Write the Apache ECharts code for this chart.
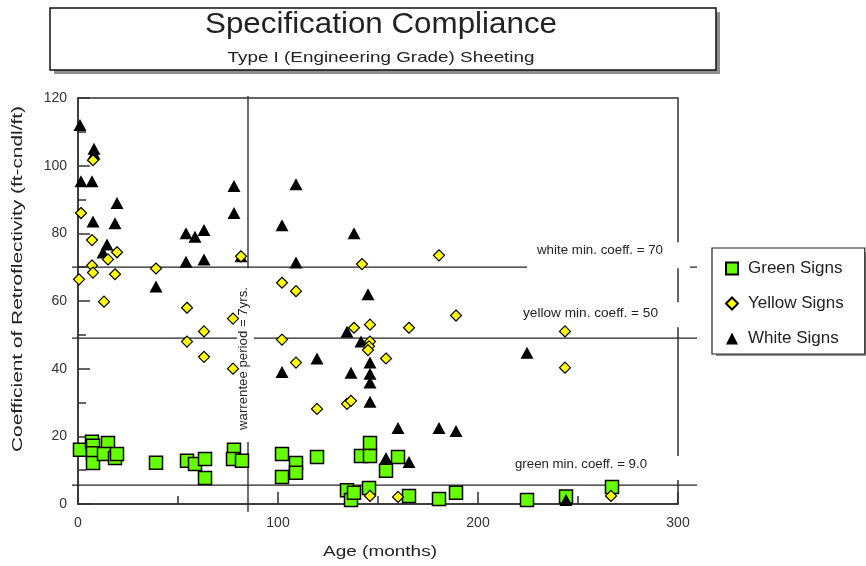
<!DOCTYPE html>
<html><head><meta charset="utf-8">
<script src="https://cdn.jsdelivr.net/npm/echarts@6/dist/echarts.min.js"></script>
<style>html,body{margin:0;padding:0;background:#fff}#c{width:866px;height:566px}</style>
</head><body><div id="c"></div>
<script>
// ---------- data ----------
const seriesNames = ['Green Signs', 'Yellow Signs', 'White Signs'];
const greenSigns = [
  [1,16],[7,18.4],[7.5,17.2],[7.5,15],[7.5,12.1],[15,18],[13,14.8],[18.5,13.6],[19.5,14.8],
  [39,12.2],[54.5,12.8],[58.5,11.8],[63.5,13.3],[63.5,7.7],[78,16],[77.5,13.3],[82,12.8],
  [102,14.8],[102,8],[109,12.1],[109,9.2],[119.5,13.9],[134.5,4.1],[136.5,1.2],[138,3.3],
  [141.5,14.2],[146,18],[146,14.2],[145.5,4.7],[154,9.8],[160,13.9],[165.5,2.4],[180.5,1.5],
  [189,3.3],[224.5,1.2],[244,2.2],[267,5]
];
const yellowSigns = [
  [1.5,86],[7.5,101.6],[7,78],[15,72.3],[19.5,74.4],[7,70.5],[7.5,68.4],[18.5,67.9],[0.5,66.4],
  [13,59.8],[39,69.6],[54.5,58],[54.5,48],[63,51],[63,43.5],[77.5,54.8],[77.5,40],[81.5,73.2],
  [102,65.4],[102,48.6],[109,62.9],[109,41.8],[119.5,28.1],[134.5,29.6],[136.5,30.5],[138,52.1],
  [142,70.9],[146,53],[146,48],[145.5,46.6],[145,45.5],[154,43],[165.5,52.1],[180.5,73.5],
  [189,55.7],[146,2.4],[160,2.1],[243.5,51],[243.5,40.3],[266.5,2.4]
];
const whiteSigns = [
  [1,112],[8,105],[8,103.5],[1.5,95.4],[7,95.4],[19.5,89],[7.5,83.5],[18.5,83],[14.5,76.7],
  [12.5,74.3],[39,64.3],[54,80],[58.5,79],[63,81],[54,71.6],[63,72.3],[78,94],[78,86],
  [81.5,73.2],[102,82.4],[109,94.5],[138,80],[109,71.4],[145,62],[134.5,50.9],[141.5,48],
  [119.5,43],[146,41.8],[102,39],[136.5,38.8],[146,38.5],[146,35.9],[146,30.2],[160,22.5],
  [180.5,22.5],[189,21.6],[154,13.6],[165.5,12.4],[224.5,44.7],[244,1.2]
];
const xRange = [0, 300], xStep = 100;
const yRange = [0, 120], yStep = 20;
const refValues = [70, 49, 5.6];
const refLabels = ['white min. coeff. = 70', 'yellow min. coeff. = 50', 'green min. coeff. = 9.0'];
const warrantyMonths = 85;
const warrantyLabel = 'warrentee period = 7yrs.';
const titleText = 'Specification Compliance';
const subtitleText = 'Type I (Engineering Grade) Sheeting';
const xAxisName = 'Age (months)';
const yAxisName = 'Coefficient of Retroflectivity (ft-cndl/ft)';

// ---------- chart ----------
const FONT = '"Liberation Sans", Arial, Helvetica, sans-serif';
const chart = echarts.init(document.getElementById('c'), null, {renderer: 'canvas'});
const axisCommon = {
  splitLine: {show: false},
  axisLine: {show: true, onZero: false, lineStyle: {color: '#333', width: 1.5}},
  axisTick: {show: true, inside: true, length: 12, lineStyle: {color: '#333', width: 1.5}},
  minorTick: {show: true, splitNumber: 2, length: 8, lineStyle: {color: '#333', width: 1.5}},
  axisLabel: {color: '#333', fontSize: 14, fontFamily: FONT}
};
chart.setOption({
  animation: false,
  backgroundColor: '#fff',
  grid: {left: 78, top: 98, width: 600, height: 406, show: true, borderColor: '#333', borderWidth: 1.5, backgroundColor: 'transparent'},
  xAxis: Object.assign({type: 'value', min: xRange[0], max: xRange[1], interval: xStep}, axisCommon,
    {axisLabel: Object.assign({}, axisCommon.axisLabel, {margin: 12})}),
  yAxis: Object.assign({type: 'value', min: yRange[0], max: yRange[1], interval: yStep}, axisCommon,
    {axisLabel: Object.assign({}, axisCommon.axisLabel, {margin: 11})}),
  legend: {
    orient: 'vertical', left: 712, top: 248, z: 5,
    data: seriesNames,
    padding: [12, 21, 7, 13], itemGap: 18, itemWidth: 12, itemHeight: 12,
    backgroundColor: '#fff', borderColor: '#222', borderWidth: 1.2,
    textStyle: {fontSize: 17, fontFamily: FONT, color: '#222', padding: [0, 0, 0, 5]}
  },
  series: [
    {name: seriesNames[0], type: 'scatter', data: greenSigns, symbol: 'rect', symbolSize: 13, z: 2,
     itemStyle: {color: '#66ff00', borderColor: '#000', borderWidth: 1.5, opacity: 1}, emphasis: {disabled: true}},
    {name: seriesNames[2], type: 'scatter', data: whiteSigns, symbol: 'triangle', symbolSize: [13, 12], z: 3,
     itemStyle: {color: '#000', opacity: 1}, emphasis: {disabled: true}},
    {name: seriesNames[1], type: 'scatter', data: yellowSigns, symbol: 'diamond', symbolSize: 11, z: 4,
     itemStyle: {color: '#ffff00', borderColor: '#000', borderWidth: 1.2, opacity: 1}, emphasis: {disabled: true}}
  ]
});

// ---------- overlay graphics placed through the chart's own scales ----------
const mctx = document.createElement('canvas').getContext('2d');
function txt(text, cx, cy, size, targetW, rot, z) {
  mctx.font = size + 'px ' + FONT;
  const w = mctx.measureText(text).width;
  return {type: 'text', x: cx, y: cy, rotation: rot || 0, scaleX: targetW ? targetW / w : 1, z: z || 6,
    style: {text: text, font: size + 'px ' + FONT, fill: '#222', align: 'center', verticalAlign: 'middle'}};
}
const P = (x, y) => chart.convertToPixel({gridIndex: 0}, [x, y]);
const [xL, yB] = P(xRange[0], yRange[0]);
const [xR, yT] = P(xRange[1], yRange[1]);
const G = [];
// title box with flat offset shadow
G.push({type: 'rect', shape: {x: 54, y: 12, width: 666, height: 62}, z: 0, style: {fill: '#8f8f8f'}});
G.push({type: 'rect', shape: {x: 50, y: 8, width: 666, height: 62}, z: 1, style: {fill: '#fff', stroke: '#111', lineWidth: 1.5}});
G.push(txt(titleText, 381, 25, 30, 352));
G.push(txt(subtitleText, 381, 58, 15, 307));
// legend shadow (flat, offset)
G.push({type: 'rect', shape: {x: 716, y: 252, width: 150, height: 104}, z: 0, style: {fill: '#8f8f8f'}});
// axis titles
G.push(txt(xAxisName, 380, 552, 15, 114));
G.push(txt(yAxisName, 18, 279, 15, 346, Math.PI / 2));
// reference lines
const lineYs = refValues.map(v => P(0, v)[1]);
lineYs.forEach(ly => {
  G.push({type: 'line', z: 1, shape: {x1: xL - 6, y1: ly, x2: xR + 19, y2: ly}, style: {stroke: '#222', lineWidth: 1.3}});
});
const boxes = [
  {bx: -151, by: -25, bw: 163, bh: 26, tx: -78, ty: -16, tw: 126},
  {bx: -157, by: -36, bw: 169, bh: 25, tx: -87.5, ty: -25, tw: 135},
  {bx: -165, by: -29, bw: 177, bh: 24, tx: -97, ty: -20, tw: 132}
];
boxes.forEach((b, i) => {
  const ly = lineYs[i];
  G.push({type: 'rect', z: 1.5, shape: {x: xR + b.bx, y: ly + b.by, width: b.bw, height: b.bh}, style: {fill: '#fff'}});
  G.push(txt(refLabels[i], xR + b.tx, ly + b.ty, 12, b.tw));
});
// warranty line + label
const wx = P(warrantyMonths, 0)[0];
G.push({type: 'line', z: 1, shape: {x1: wx, y1: yT - 2, x2: wx, y2: yB + 8}, style: {stroke: '#222', lineWidth: 1.3}});
G.push({type: 'rect', z: 1.5, shape: {x: wx - 11, y: lineYs[0] + 1, width: 17, height: (yB - 62) - (lineYs[0] + 1)}, style: {fill: '#fff'}});
G.push(txt(warrantyLabel, wx - 4, yB - 145.5, 12, 143, Math.PI / 2));
chart.setOption({graphic: {elements: G}});
</script>
</body></html>
